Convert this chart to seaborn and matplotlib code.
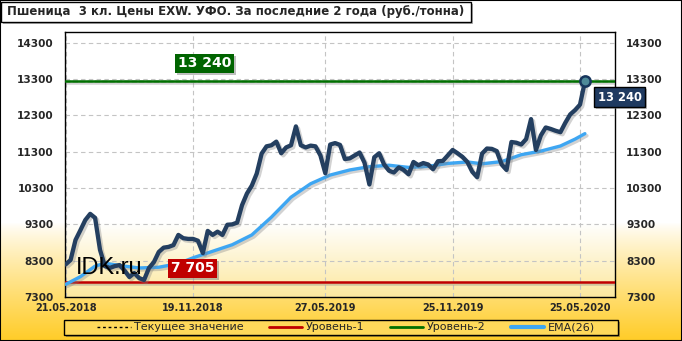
import numpy as np
import pandas as pd
import matplotlib
matplotlib.use("Agg")
import matplotlib.pyplot as plt
import matplotlib.patheffects as pe
from matplotlib.patches import Rectangle
from matplotlib.lines import Line2D
import seaborn as sns

# ---------------- data ----------------
title = "Пшеница  3 кл. Цены EXW. УФО. За последние 2 года (руб./тонна)"
start_date = "2018-05-21"
price = [8200, 8320, 8870, 9140, 9420, 9590, 9480, 8600, 8150, 8100,
         8150, 8180, 8030, 7850, 7960, 7820, 7770, 8100, 8260, 8540,
         8660, 8680, 8730, 9010, 8920, 8900, 8900, 8850, 8510, 9120,
         9010, 9100, 9010, 9290, 9300, 9350, 9830, 10150, 10370, 10700,
         11250, 11450, 11480, 11580, 11260, 11420, 11480, 12000, 11480, 11420,
         11470, 11450, 11200, 10710, 11500, 11540, 11490, 11100, 11120, 11200,
         11280, 11000, 10400, 11150, 11260, 10950, 10780, 10730, 10870, 10800,
         10680, 11020, 10930, 10990, 10950, 10820, 11040, 11050, 11200, 11350,
         11260, 11160, 11020, 10750, 10600, 11250, 11390, 11380, 11320, 10950,
         10800, 11570, 11550, 11500, 11650, 12200, 11350, 11750, 11970, 11930,
         11880, 11840, 12100, 12330, 12450, 12600, 13240]
ema_week = [0, 3, 6, 8, 12, 15, 19, 23, 26, 30, 34, 38, 42, 46, 50, 54, 58,
            62, 66, 70, 74, 78, 82, 85, 89, 93, 97, 101, 104, 106]
ema_vals = [7650, 7860, 8150, 8230, 8150, 8100, 8120, 8220, 8380, 8560, 8740,
            9010, 9500, 10050, 10420, 10660, 10800, 10890, 10930, 10870, 10900,
            10980, 11020, 10970, 11030, 11220, 11320, 11460, 11650, 11800]
level1 = 7705
level2 = 13240
current = 13240
level1_label = "7 705"
level2_label = "13 240"
current_label = "13 240"
x_tick_labels = ["21.05.2018", "19.11.2018", "27.05.2019", "25.11.2019", "25.05.2020"]
y_ticks = [7300, 8300, 9300, 10300, 11300, 12300, 13300, 14300]
legend_labels = ["Текущее значение", "Уровень-1", "Уровень-2", "EMA(26)"]

# ---------------- frames ----------------
dates = pd.date_range(start_date, periods=len(price), freq="7D")
df = pd.DataFrame({"date": dates, "price": price})
ema_df = pd.DataFrame({"date": pd.to_datetime(start_date) + pd.to_timedelta(np.array(ema_week) * 7, unit="D"),
                       "ema": ema_vals})
tick_dates = pd.to_datetime(x_tick_labels, format="%d.%m.%Y")

sns.set_theme(style="white")
plt.rcParams['font.family'] = ['DejaVu Sans']

W, H = 682, 341
fig = plt.figure(figsize=(W / 100, H / 100), dpi=100)

# figure background gradient
bg = fig.add_axes([0, 0, 1, 1], zorder=0)
bg.axis("off")
yy = np.arange(H)
t = np.clip((yy - 222) / (H - 222), 0, 1) ** 0.85
white = np.array([1, 1, 1])
gold = np.array([1.0, 0.80, 0.15])
img = (white[None, :] * (1 - t[:, None]) + gold[None, :] * t[:, None])[:, None, :]
bg.imshow(img, extent=[0, 1, 0, 1], aspect="auto", transform=bg.transAxes)
bg.set_xlim(0, 1); bg.set_ylim(0, 1)

# main axes
L, R, T, B = 65, 615, 32, 297
ax = fig.add_axes([L / W, 1 - B / H, (R - L) / W, (B - T) / H], zorder=2)
ax.set_facecolor("none")
ph = B - T
yp = np.arange(ph)
tp = np.clip((yp - (222 - T)) / (ph - (222 - T)), 0, 1)
pale = np.array([0.99, 0.91, 0.62])
img2 = (white[None, :] * (1 - tp[:, None]) + pale[None, :] * tp[:, None])[:, None, :]
ax.imshow(img2, extent=[0, 1, 0, 1], aspect="auto", transform=ax.transAxes, zorder=0)

shadow = [pe.SimpleLineShadow(offset=(1.5, -1.5), shadow_color="gray", alpha=0.35), pe.Normal()]

ax.axhline(current, color="#333333", lw=1, ls="--", zorder=3)
ax.axhline(level2, color="#007000", lw=1.8, zorder=3, path_effects=shadow)
ax.axhline(level1, color="#c00000", lw=1.8, zorder=3, path_effects=shadow)

sns.lineplot(data=ema_df, x="date", y="ema", ax=ax, color="#3ea6f2", lw=2.4,
             zorder=4, path_effects=shadow)
sns.lineplot(data=df, x="date", y="price", ax=ax, color="#243f60", lw=3.1,
             zorder=5, path_effects=shadow, solid_joinstyle="round", solid_capstyle="round")
ax.scatter([dates[-1]], [price[-1]], s=55, facecolor="#4e8a99", edgecolor="#17365d",
           linewidth=1.8, zorder=6)

ax.set_xlim(pd.Timestamp("2018-05-20"), pd.Timestamp("2020-07-14"))
ax.set_ylim(7300, 14600)
ax.set_yticks(y_ticks)
ax.set_yticklabels([str(v) for v in y_ticks])
ax.set_xticks(tick_dates)
ax.set_xticklabels(x_tick_labels)
ax.set_xlabel("")
ax.set_ylabel("")
ax.grid(True, color="#c4c4c4", lw=0.8, ls=(0, (4, 3)), zorder=1)
ax.set_axisbelow(True)
ax.tick_params(axis="y", length=0, pad=8, labelleft=True, labelright=True, labelsize=7.6)
ax.tick_params(axis="x", length=0, pad=4, labelsize=7)
for lbl in ax.get_xticklabels() + ax.get_yticklabels():
    lbl.set_fontweight("bold")
for tk in ax.yaxis.get_major_ticks():
    tk.label2.set_fontweight("bold")
for s in ax.spines.values():
    s.set_color("black"); s.set_linewidth(1)
    s.set_visible(True)

# watermark
ax.text(0.02, 0.085, "IDK.ru", transform=ax.transAxes, fontsize=17,
        family="Liberation Sans", color="black", va="baseline", ha="left", zorder=7)

# value boxes
box_shadow = [pe.withSimplePatchShadow(offset=(1.5, -1.5), shadow_rgbFace="gray", alpha=0.5)]
ax.annotate(level2_label, xy=(0.2536, level2), xycoords=ax.get_yaxis_transform(),
            xytext=(0, 13), textcoords="offset points", ha="center", va="center",
            fontsize=10, fontweight="bold", color="white", zorder=8,
            bbox=dict(boxstyle="square,pad=0.2", fc="#006400", ec="none",
                      path_effects=box_shadow))
ax.annotate(level1_label, xy=(0.232, level1), xycoords=ax.get_yaxis_transform(),
            xytext=(0, 10), textcoords="offset points", ha="center", va="center",
            fontsize=10, fontweight="bold", color="white", zorder=8,
            bbox=dict(boxstyle="square,pad=0.2", fc="#c00000", ec="none",
                      path_effects=box_shadow))
ax.annotate(current_label, xy=(dates[-1], current), xycoords="data",
            xytext=(25, -11.5), textcoords="offset points", ha="center", va="center",
            fontsize=8.3, fontweight="bold", color="white", zorder=8, annotation_clip=False,
            bbox=dict(boxstyle="square,pad=0.3", fc="#1f3a60", ec="black", lw=1,
                      path_effects=box_shadow))

# title box
fig.patches.append(Rectangle((3 / W, 1 - 24 / H), 470 / W, 20 / H, transform=fig.transFigure,
                             fc="#b0b0b0", ec="none", zorder=3))
fig.patches.append(Rectangle((1 / W, 1 - 22 / H), 470 / W, 20 / H, transform=fig.transFigure,
                             fc="white", ec="black", lw=1, zorder=4))
fig.text(7 / W, 1 - 12 / H, title, fontsize=8.5, fontweight="bold", va="center", ha="left",
         zorder=5)

# legend frame (drawn separately) + legend entries
fig.patches.append(Rectangle((66 / W, 1 - 337 / H), 554 / W, 15 / H, transform=fig.transFigure,
                             fc="#7a6a30", ec="none", alpha=0.6, zorder=3))
fig.patches.append(Rectangle((64 / W, 1 - 335 / H), 554 / W, 15 / H, transform=fig.transFigure,
                             fc="#ffd95a", ec="black", lw=1, zorder=4))
handles = [Line2D([], [], color="black", lw=1, ls=(0, (2, 2))),
           Line2D([], [], color="#c00000", lw=2),
           Line2D([], [], color="#007000", lw=2),
           Line2D([], [], color="#3ea6f2", lw=3)]
leg = fig.legend(handles, legend_labels, loc="center",
                 bbox_to_anchor=(346 / W, 1 - 327.5 / H),
                 ncol=4, fontsize=8, frameon=False,
                 borderpad=0.0, handlelength=3.0, handletextpad=0.3, columnspacing=2.3)
leg.set_zorder(6)

# figure border
fig.patches.append(Rectangle((0, 0), 1, 1, transform=fig.transFigure, fc="none",
                             ec="black", lw=1.5, zorder=10))

fig.savefig("out.png", dpi=100)
